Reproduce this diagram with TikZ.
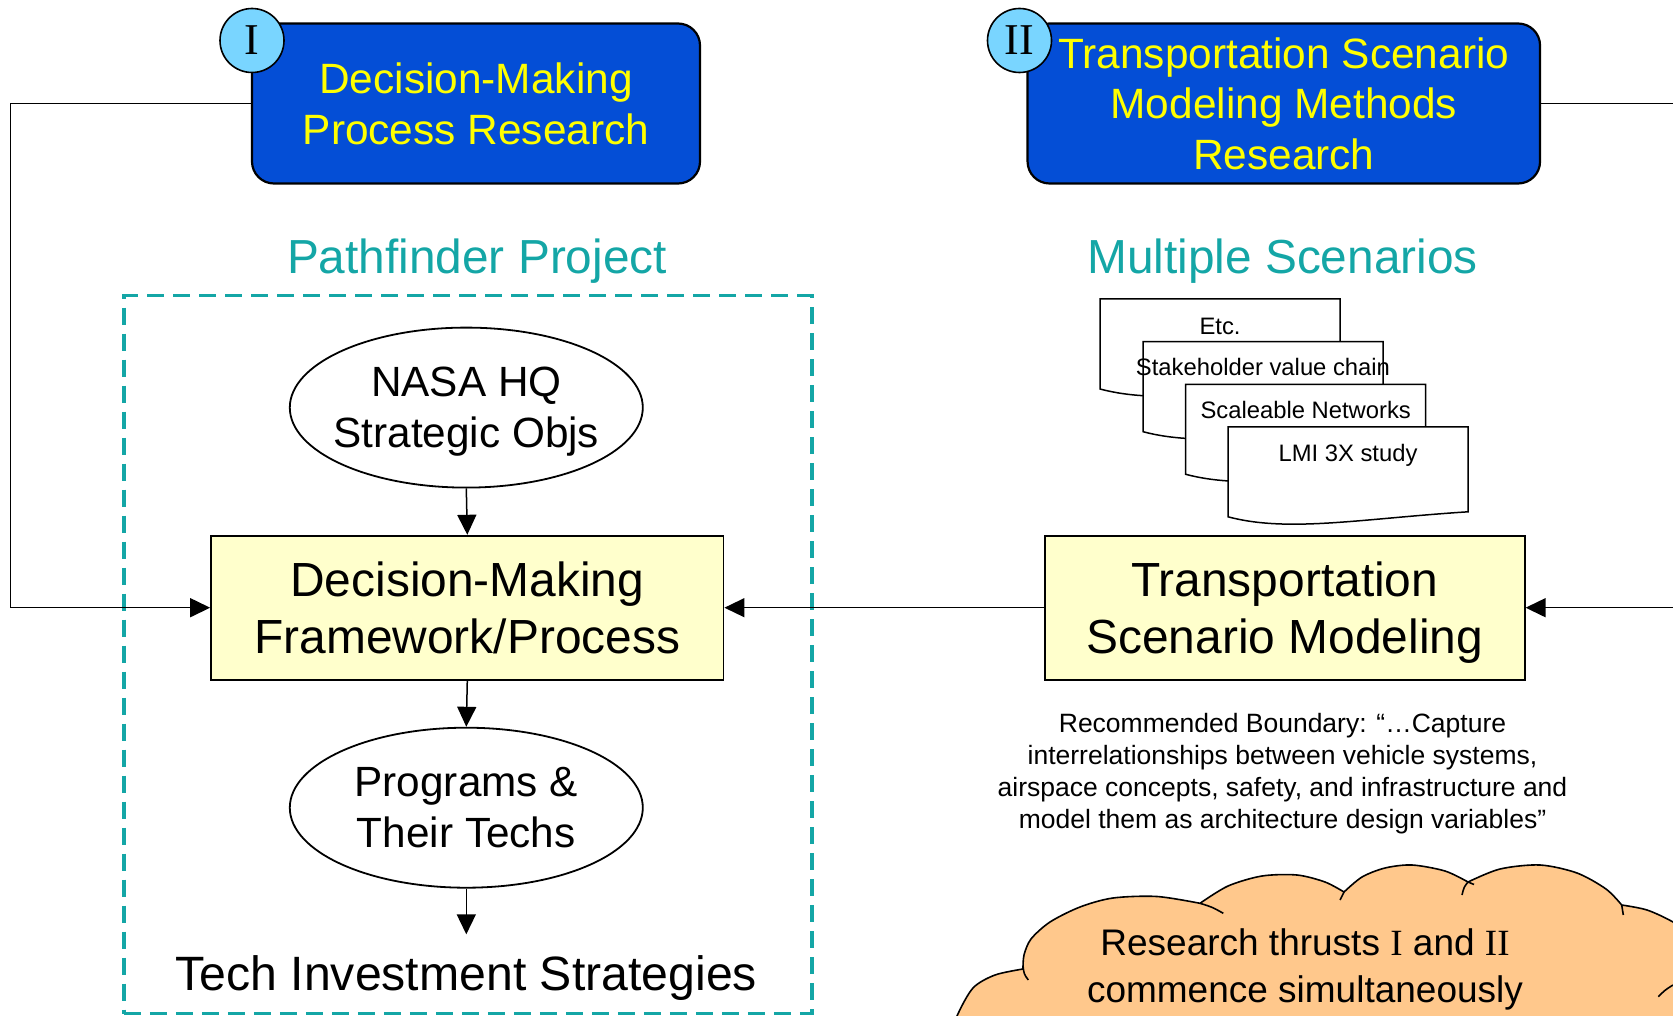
\documentclass[tikz,border=0pt]{standalone}
\usepackage{fontspec}
\setmainfont{Liberation Sans}
\newfontfamily\romanfont{Liberation Serif}
\usetikzlibrary{arrows.meta,shapes.geometric}

\definecolor{thrustblue}{RGB}{4,78,214}
\definecolor{thrusttext}{RGB}{255,255,0}
\definecolor{badgecyan}{RGB}{121,213,255}
\definecolor{paleyellow}{RGB}{255,255,204}
\definecolor{tealpath}{RGB}{20,166,166}
\definecolor{cloudorange}{RGB}{255,200,140}

\newcommand\fsz[2]{\fontsize{#1pt}{#2pt}\selectfont}

% one scenario sheet: #1 name, #2 x, #3 y of its top-left corner,
% #4 label offset below the top edge, #5 label
\newcommand\scenariodoc[5]{%
  \begin{scope}[shift={(#2,#3)}]
    \path[doc] (0,0) -- (240,0) -- (240,85)
      .. controls (132,92) and (60,106) .. (0,90) -- cycle;
  \end{scope}
  \node[doclabel] (#1) at ({#2+120},{#3+#4}) {#5};
}

\begin{document}
\begin{tikzpicture}[x=1pt,y=-1pt,
  thrust/.style={draw=black, line width=2.2pt, fill=thrustblue,
    rounded corners=22pt, text=thrusttext, align=center, inner sep=0pt,
    minimum height=160pt, text depth=0pt, font=\fsz{42.4}{50.3}},
  badge/.style={draw=black, line width=1.6pt, fill=badgecyan, circle,
    minimum size=64pt, inner sep=0pt, font=\romanfont\fsz{44}{44}},
  procbox/.style={draw=black, line width=1.8pt, fill=paleyellow,
    align=center, inner sep=0pt, minimum height=144pt, text depth=0pt,
    font=\fsz{47.9}{56.5}},
  oval/.style={draw=black, line width=1.8pt, ellipse, minimum width=353pt,
    minimum height=160pt, inner xsep=-30pt, inner ysep=0pt, align=center,
    text depth=0pt, font=\fsz{42.3}{51}},
  arr/.style={line width=1.5pt, -{Triangle[length=20pt,width=19pt]}},
  heading/.style={text=tealpath, font=\fsz{47.8}{56}, inner sep=0pt,
    text depth=0pt},
  doc/.style={draw=black, line width=1.5pt, fill=white},
  doclabel/.style={font=\fsz{23.8}{28}, inner sep=0pt, text depth=0pt},
  cloudline/.style={draw=black, line width=1.6pt},
]
\useasboundingbox (0,0) rectangle (1673,1016);

% ---------- Pathfinder project frame ----------
\node[draw=tealpath, line width=3.2pt, dash pattern=on 17pt off 9pt,
  minimum width=688pt, minimum height=718pt, inner sep=0pt]
  (pathframe) at (467.9,654.6) {};
\node[heading] (pathtitle) at (477,256) {Pathfinder Project};

% ---------- research thrusts ----------
\node[thrust, minimum width=448pt] (thrustI) at (476,103.5)
  {Decision-Making\\Process Research};
\node[thrust, minimum width=512.5pt] (thrustII) at (1283.8,103.5)
  {Transportation Scenario\\Modeling Methods\\Research};
\node[badge] (badgeI) at (252,40.5) {I};
\node[badge] (badgeII) at (1019.5,40.5) {II};

% ---------- pathfinder chain ----------
\node[oval] (nasa) at (466.3,407.6) {NASA HQ\\Strategic Objs};
\node[procbox, minimum width=512.5pt] (frame) at (467.3,607.7)
  {Decision-Making\\Framework/Process};
\node[oval] (prog) at (466.3,807.7) {Programs \&\\Their Techs};
\node[font=\fsz{48.2}{56}, inner xsep=0pt, inner ysep=21pt] (tech)
  at (466.3,978) {Tech Investment Strategies};

\draw[arr] (nasa.south) -- (frame.north);
\draw[arr] (frame.south) -- (prog.north);
\draw[arr] (prog.south) -- (tech.north);

% ---------- scenario modelling ----------
\node[procbox, minimum width=480pt] (trans) at (1284.7,607.7)
  {Transportation\\Scenario Modeling};
\draw[arr] (trans.west) -- (frame.east);

\node[heading] (scentitle) at (1282.5,256) {Multiple Scenarios};
\scenariodoc{etc}{1100}{299}{27.5}{Etc.}
\scenariodoc{stake}{1143}{341.7}{25.5}{Stakeholder value chain}
\scenariodoc{scale}{1185.7}{384.3}{25.5}{Scaleable Networks}
\scenariodoc{lmi}{1228}{426.8}{26}{LMI 3X study}

\node[align=center, font=\fsz{26.5}{32}, inner sep=0pt, text depth=0pt]
  (boundary) at (1282.5,771)
  {Recommended Boundary: “…Capture\\
   interrelationships between vehicle systems,\\
   airspace concepts, safety, and infrastructure and\\
   model them as architecture design variables”};

% ---------- feedback loops ----------
\coordinate (loopL) at (10.7,103.5);
\coordinate (loopR) at (1700,103.5);
\draw[arr] (thrustI.west) -- (loopL) |- (frame.west);
\draw[arr] (thrustII.east) -- (loopR) |- (trans.east);

% ---------- cloud ----------
\begin{scope}
  \clip (0,0) rectangle (1673,1016);
  \path[cloudline, fill=cloudorange]
    plot[smooth] coordinates {(950,1040) (957,1016) (973,988) (995,975) (1023,969)}
    -- plot[smooth] coordinates {(1023,969) (1024,955) (1031,939) (1050,922)
        (1080,907) (1113,898) (1157,896.5) (1200,903.3)}
    -- plot[smooth] coordinates {(1200,903.3) (1228,886) (1262,876) (1297,875)
        (1325,882) (1344,892)}
    -- plot[smooth] coordinates {(1344,892) (1362,877) (1385,868) (1412,865)
        (1445,871) (1468,882)}
    -- plot[smooth] coordinates {(1468,882) (1500,869) (1540,865) (1577,873)
        (1606,889) (1621.7,905)}
    -- plot[smooth] coordinates {(1621.7,905) (1647,910) (1673,922) (1700,940)}
    -- (1710,1040) -- cycle;
  % inner folds between the lobes
  \draw[cloudline] (1023,966) .. controls (1024,974) .. (1028.3,980);
  \draw[cloudline] (1200,903.3) .. controls (1212,907) .. (1223.3,913.3);
  \draw[cloudline] (1344,892) -- (1340,900);
  \draw[cloudline] (1468,882) -- (1474,884.5);
  \draw[cloudline] (1468,882) .. controls (1464,887) .. (1462,895);
  \draw[cloudline] (1621.7,905) -- (1623.3,915);
  \draw[cloudline] (1658.3,996.7) .. controls (1665,990) .. (1673,985);
\end{scope}
\node[align=center, font=\fsz{37}{47}, inner sep=0pt, text depth=0pt]
  (thrustnote) at (1305,966)
  {Research thrusts {\romanfont I} and {\romanfont II}\\commence simultaneously};

\end{tikzpicture}
\end{document}
